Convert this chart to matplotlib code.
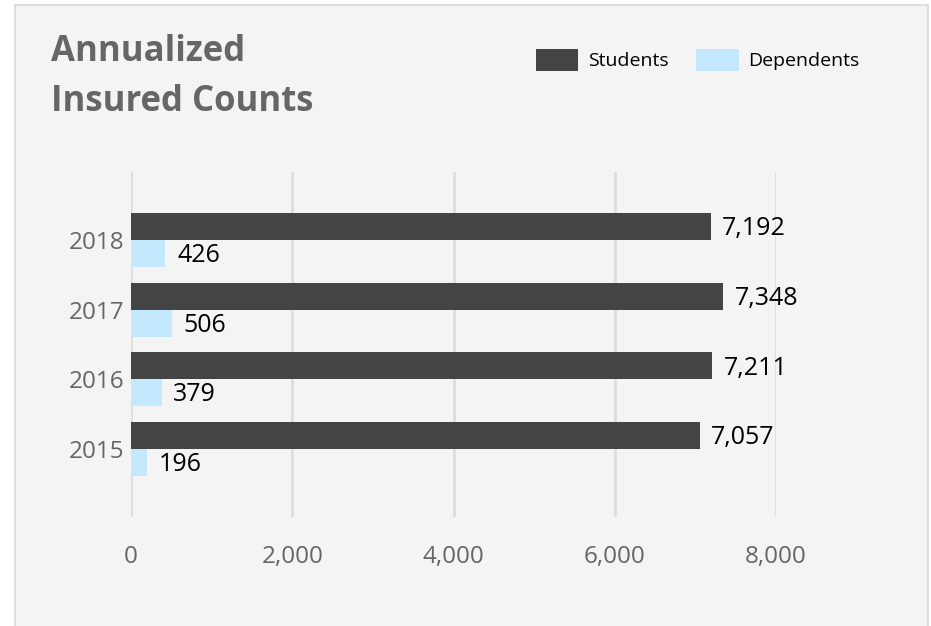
import numpy as np
import matplotlib
matplotlib.use('Agg')
import matplotlib.pyplot as plt
from matplotlib.patches import Rectangle, Patch
from matplotlib.ticker import FuncFormatter

plt.rcParams['font.family'] = ['Open Sans', 'DejaVu Sans']

years = ['2015', '2016', '2017', '2018']
students = [7057, 7211, 7348, 7192]
dependents = [196, 379, 506, 426]

dark = '#444444'
light = '#c4e8fd'
grey = '#666666'

fig = plt.figure(figsize=(9.31, 6.26), dpi=100)
fig.patch.set_facecolor('white')

# card background
fig.patches.append(Rectangle((15 / 931, -0.05), 913 / 931, 1.05 - 5 / 626,
                             transform=fig.transFigure, facecolor='#f4f4f4',
                             edgecolor='#d8d8d8', lw=1.2, zorder=-10))

ax = fig.add_axes([131 / 931, 1 - 517 / 626, 645 / 931, 345 / 626])
ax.set_facecolor('none')

y = np.arange(len(years))
h = 0.386
ax.barh(y + h / 2, students, height=h, color=dark, zorder=3)
ax.barh(y - h / 2, dependents, height=h, color=light, zorder=3)

for yi, v in zip(y, students):
    ax.text(v + 140, yi + h / 2 - 0.03, f'{v:,}', va='center', ha='left',
            fontsize=18, color='black')
for yi, v in zip(y, dependents):
    ax.text(v + 145, yi - h / 2 - 0.03, f'{v:,}', va='center', ha='left',
            fontsize=18, color='black')

ax.set_xlim(0, 8000)
ax.set_ylim(-0.97, 3.97)
ax.set_xticks([0, 2000, 4000, 6000, 8000])
ax.xaxis.set_major_formatter(FuncFormatter(lambda v, p: f'{int(v):,}'))
ax.set_yticks(y)
ax.set_yticklabels(years)
ax.tick_params(axis='both', length=0, labelsize=17.5, labelcolor=grey)
ax.tick_params(axis='x', pad=20)
ax.tick_params(axis='y', pad=5)
ax.grid(axis='x', color='#dddddd', lw=2, zorder=0)
for s in ax.spines.values():
    s.set_visible(False)

fig.text(51 / 931, 1 - 77 / 626, 'Annualized\nInsured Counts', fontsize=25,
         fontweight='bold', color=grey, va='center', ha='left', linespacing=1.55)

handles = [Patch(facecolor=dark, label='Students'),
           Patch(facecolor=light, label='Dependents')]
fig.legend(handles=handles, loc='center left', bbox_to_anchor=(518 / 931, 1 - 60 / 626),
           ncol=2, frameon=False, fontsize=14, handlelength=2.2, handleheight=1.35,
           handletextpad=0.5, columnspacing=1.4, labelcolor='black')

fig.savefig('out.png', dpi=100)
